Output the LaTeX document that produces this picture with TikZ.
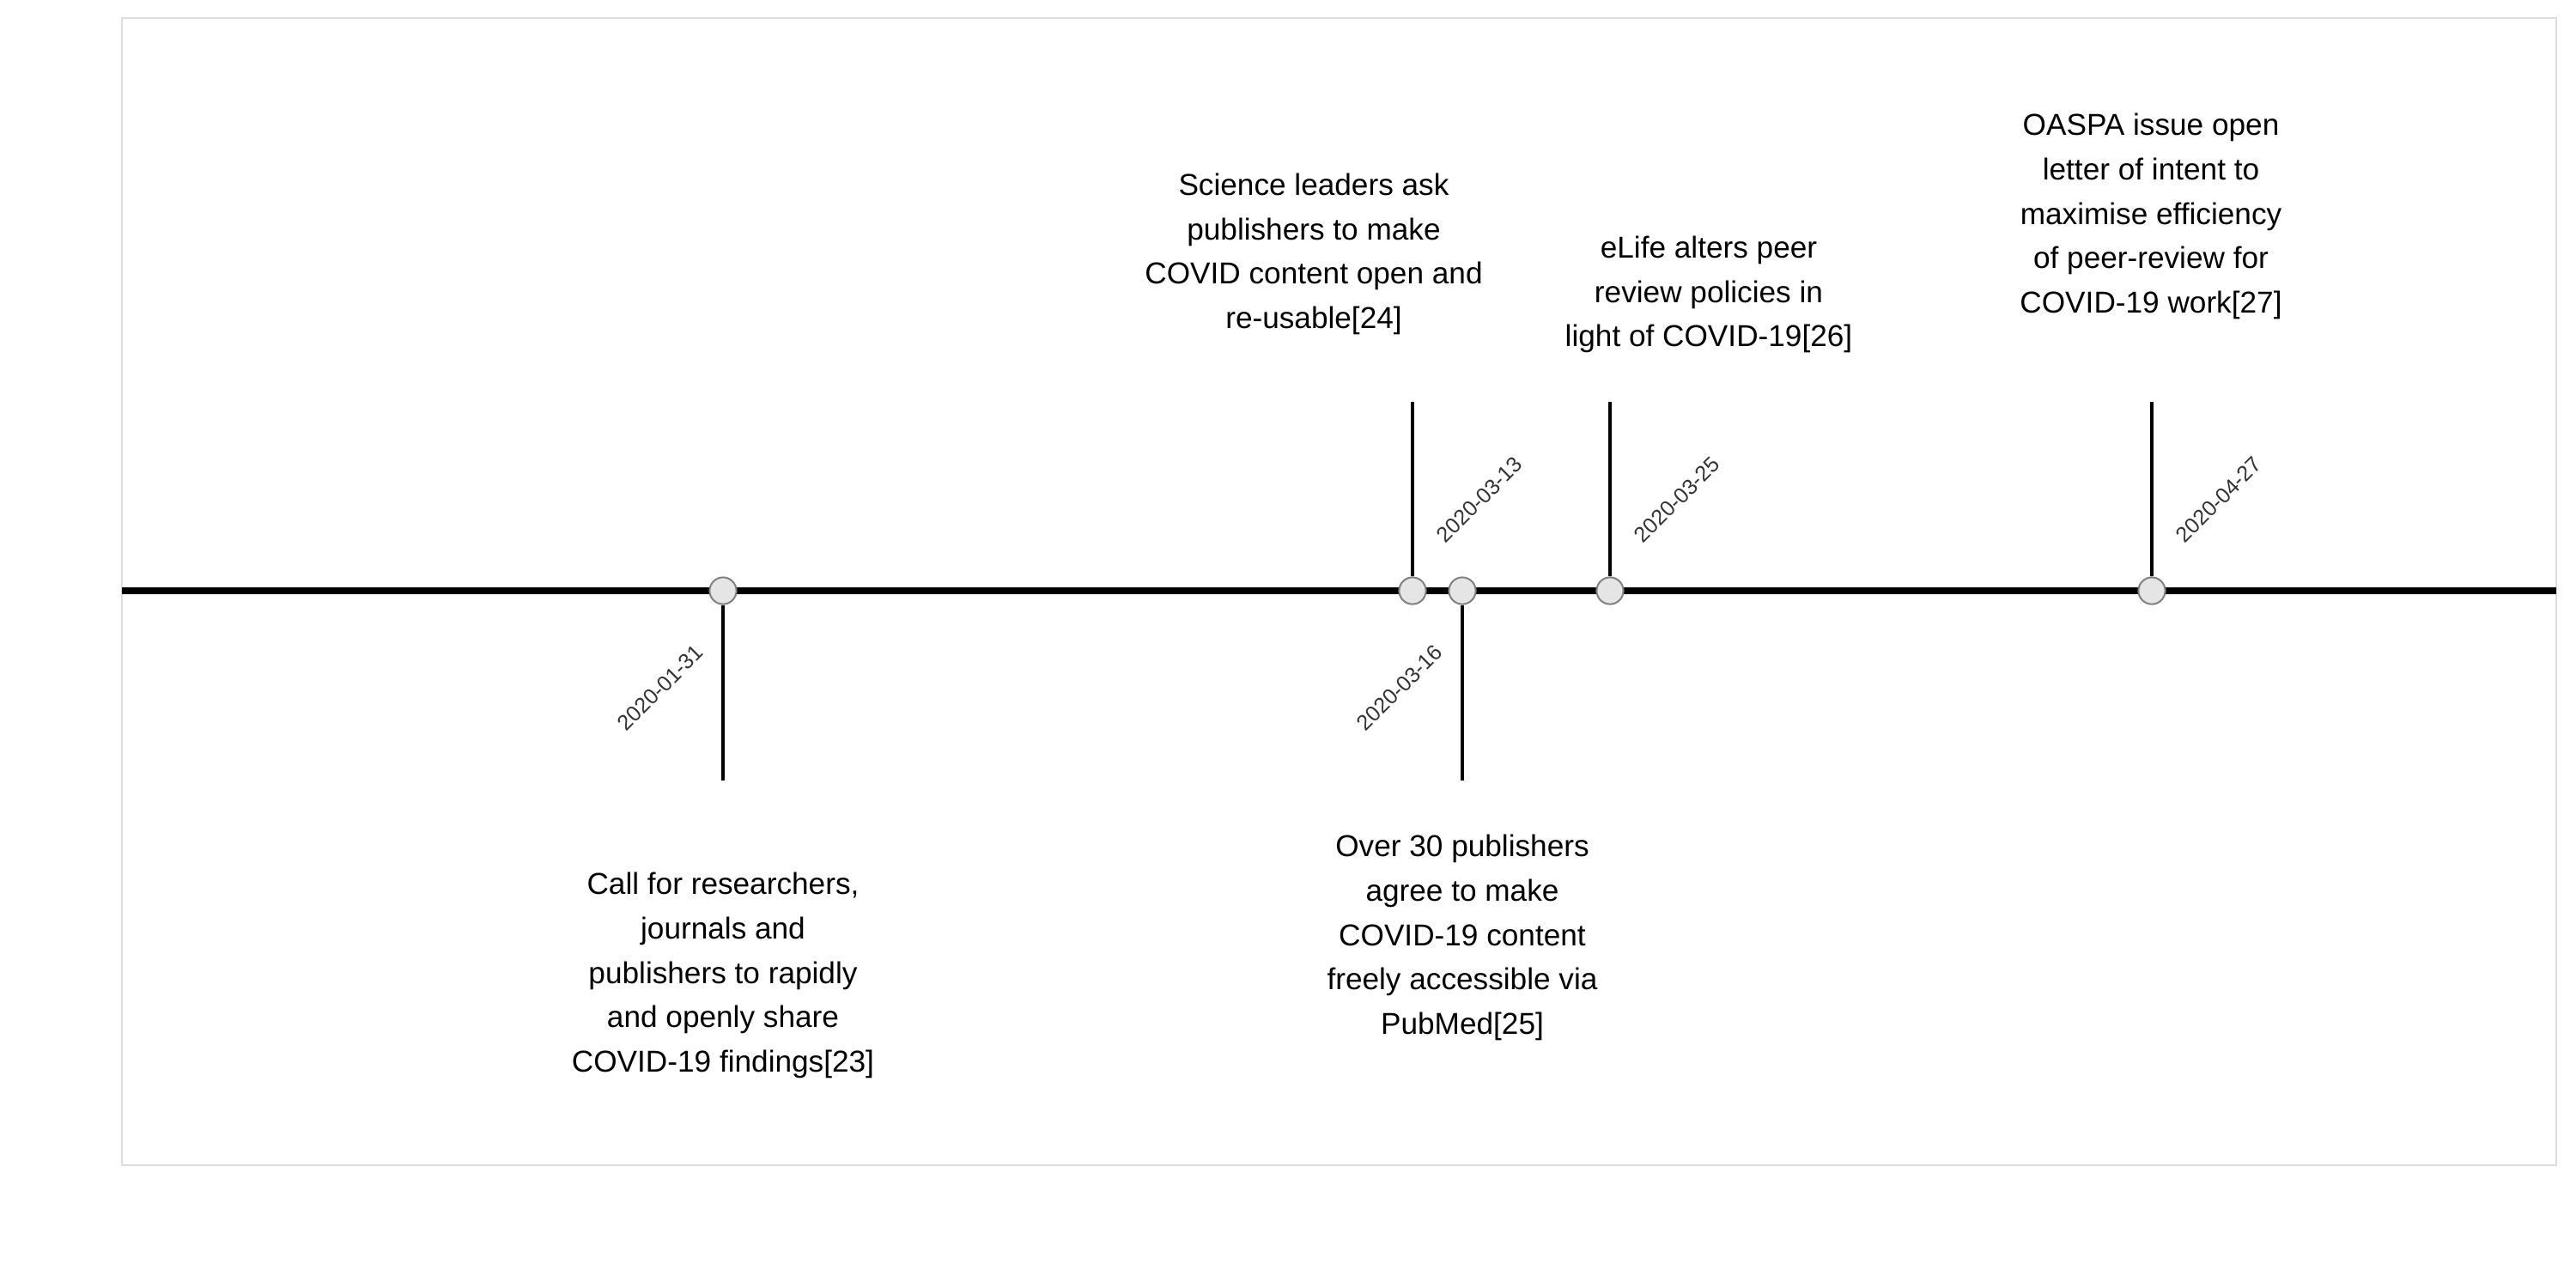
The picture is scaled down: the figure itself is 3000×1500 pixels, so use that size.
\documentclass[tikz,border=0pt]{standalone}
\usepackage{fontspec}
\setmainfont{Liberation Sans}
\definecolor{dotfill}{HTML}{E5E5E5}
\definecolor{dotline}{HTML}{808080}
\definecolor{framegray}{HTML}{DDDDDD}
\definecolor{datetext}{HTML}{333333}
\tikzset{%
axis/.style={line width=2pt,black},
stem/.style={line width=1pt,black},
dot/.style={circle,draw=dotline,fill=dotfill,line width=0.5pt,minimum size=7.8pt,inner sep=0pt},
datelbl/.style={rotate=45,text=datetext,font=\fontsize{6.3}{7}\selectfont,inner sep=0pt},
event/.style={align=center,font=\fontsize{8.8}{12.9}\selectfont,inner sep=0pt}
}

\begin{document}
\begin{tikzpicture}[x=0.25pt,y=-0.25pt]
\useasboundingbox (0,0) rectangle (3000,1500);
\draw[framegray,line width=0.7pt] (142,21) rectangle (2977,1357);
%%
\coordinate (axisL) at (142,688);
\coordinate (axisR) at (2977,688);
\draw[axis] (axisL) -- (axisR);
%%
\foreach \name/\x/\date in {sci/1645/2020-03-13,
                            elife/1875/2020-03-25,
                            oaspa/2506/2020-04-27%
                           }
{
     \node[dot] (\name) at (\x,688) {};
     \coordinate (\name stem) at (\x,468);
     \draw[stem] (\name.north) -- (\name stem);
     \node[datelbl] (\name date) at (\x+78,582) {\date};
}
\foreach \name/\x/\date in {call/842/2020-01-31,
                            pubmed/1703/2020-03-16%
                           }
{
     \node[dot] (\name) at (\x,688) {};
     \coordinate (\name stem) at (\x,909);
     \draw[stem] (\name.south) -- (\name stem);
     \node[datelbl] (\name date) at (\x-73,801) {\date};
}
%%
\node[event] (callText)   at (842,1136)  {Call for researchers,\\journals and\\publishers to rapidly\\and openly share\\COVID-19 findings[23]};
\node[event] (pubmedText) at (1703,1092) {Over 30 publishers\\agree to make\\COVID-19 content\\freely accessible via\\PubMed[25]};
\node[event] (sciText)    at (1530,296)  {Science leaders ask\\publishers to make\\COVID content open and\\re-usable[24]};
\node[event] (elifeText)  at (1990,343)  {eLife alters peer\\review policies in\\light of COVID-19[26]};
\node[event] (oaspaText)  at (2505,252)  {OASPA issue open\\letter of intent to\\maximise efficiency\\of peer-review for\\COVID-19 work[27]};
\end{tikzpicture}
\end{document}
